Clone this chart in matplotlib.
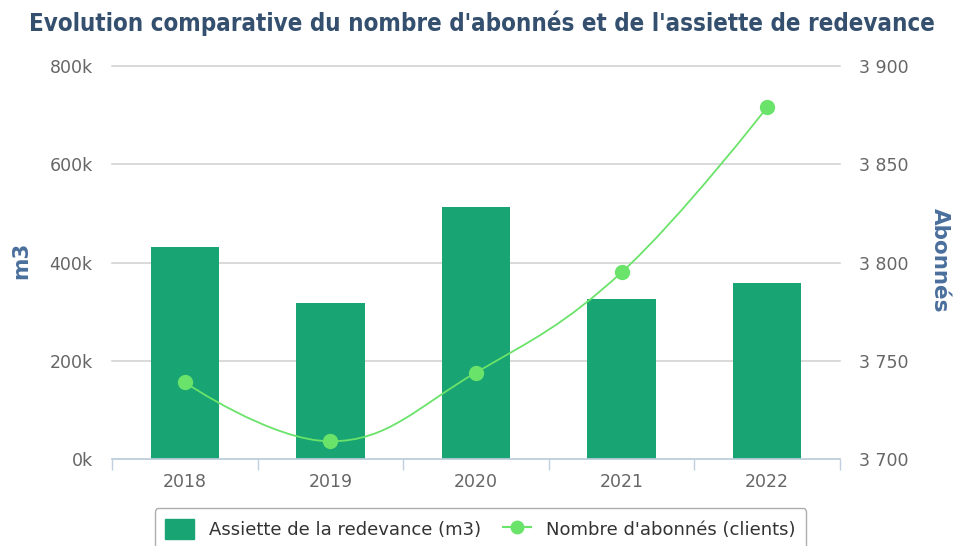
import matplotlib
matplotlib.use("Agg")
import matplotlib.pyplot as plt
from matplotlib.path import Path
from matplotlib.patches import PathPatch, Patch
from matplotlib.lines import Line2D
from matplotlib.ticker import FuncFormatter, FixedLocator

# ---- data ----
years = ["2018", "2019", "2020", "2021", "2022"]
assiette_m3 = [431000, 317000, 513000, 326000, 359000]
abonnes = [3739, 3709, 3744, 3795, 3879]
left_ticks = [0, 200000, 400000, 600000, 800000]
right_ticks = [3700, 3750, 3800, 3850, 3900]

title = "Evolution comparative du nombre d'abonnés et de l'assiette de redevance"
bar_label = "Assiette de la redevance (m3)"
line_label = "Nombre d'abonnés (clients)"

BAR_C = "#19a473"
LINE_C = "#6ae36a"
AXIS_LBL_C = "#4a6f9c"
TICK_C = "#666666"
GRID_C = "#cfcfcf"
XAXIS_C = "#c0d0e0"


def spline_path(xs, ys, smoothing=1.5):
    n = len(xs)
    denom = smoothing + 1
    lc = [None] * n
    rc = [None] * n
    for i in range(1, n - 1):
        px, py = xs[i], ys[i]
        lx, ly = xs[i - 1], ys[i - 1]
        nx, ny = xs[i + 1], ys[i + 1]
        lcx = (smoothing * px + lx) / denom
        lcy = (smoothing * py + ly) / denom
        rcx = (smoothing * px + nx) / denom
        rcy = (smoothing * py + ny) / denom
        corr = ((rcy - lcy) * (rcx - px)) / (rcx - lcx) + py - rcy
        lcy += corr
        rcy += corr
        if lcy > ly and lcy > py:
            lcy = max(ly, py); rcy = 2 * py - lcy
        elif lcy < ly and lcy < py:
            lcy = min(ly, py); rcy = 2 * py - lcy
        if rcy > ny and rcy > py:
            rcy = max(ny, py); lcy = 2 * py - rcy
        elif rcy < ny and rcy < py:
            rcy = min(ny, py); lcy = 2 * py - rcy
        lc[i] = (lcx, lcy)
        rc[i] = (rcx, rcy)
    verts = [(xs[0], ys[0])]
    codes = [Path.MOVETO]
    for i in range(1, n):
        c1 = rc[i - 1] if rc[i - 1] is not None else (xs[i - 1], ys[i - 1])
        c2 = lc[i] if lc[i] is not None else (xs[i], ys[i])
        verts += [c1, c2, (xs[i], ys[i])]
        codes += [Path.CURVE4] * 3
    return Path(verts, codes)


plt.rcParams['font.family'] = ['DejaVu Sans']

fig = plt.figure(figsize=(9.55, 5.46), dpi=100)
ax1 = fig.add_axes([112 / 955, 1 - 459 / 546, (840 - 112) / 955, (459 - 66) / 546])
ax2 = ax1.twinx()

x = list(range(len(years)))
ax1.bar(x, assiette_m3, width=0.47, color=BAR_C, zorder=2)
ax1.set_xlim(-0.5, len(years) - 0.5)
ax1.set_ylim(left_ticks[0], left_ticks[-1])
ax1.yaxis.set_major_locator(FixedLocator(left_ticks))
ax1.yaxis.set_major_formatter(FuncFormatter(lambda v, p: f"{int(v/1000)}k"))
ax1.set_axisbelow(True)
ax1.grid(axis='y', color=GRID_C, lw=1.1)
for gl in ax1.get_ygridlines():
    gl.set_clip_on(False)
ax1.set_xticks(x)
ax1.set_xticklabels(years)
ax1.set_xticks([i - 0.5 for i in range(len(years) + 1)], minor=True)
ax1.tick_params(axis='x', which='major', length=0, pad=10, labelsize=12.5, labelcolor=TICK_C)
ax1.tick_params(axis='x', which='minor', length=8, width=1, color=XAXIS_C)
ax1.tick_params(axis='y', length=0, pad=14, labelsize=12.5, labelcolor=TICK_C)
for s in ['top', 'right', 'left']:
    ax1.spines[s].set_visible(False)
ax1.spines['bottom'].set_color(XAXIS_C)
ax1.spines['bottom'].set_linewidth(1.2)
ax1.set_ylabel("m3", color=AXIS_LBL_C, fontsize=15.5, fontweight='bold', va='center')
ax1.yaxis.set_label_coords(-0.124, 0.505)

ax2.set_ylim(right_ticks[0], right_ticks[-1])
ax2.yaxis.set_major_locator(FixedLocator(right_ticks))
ax2.yaxis.set_major_formatter(FuncFormatter(lambda v, p: f"{int(v):,}".replace(",", " ")))
ax2.tick_params(axis='y', length=0, pad=14, labelsize=12.5, labelcolor=TICK_C)
for s in ax2.spines.values():
    s.set_visible(False)
ax2.set_ylabel("Abonnés", color=AXIS_LBL_C, fontsize=15.5, fontweight='bold',
               rotation=-90, va='center')
ax2.yaxis.set_label_coords(1.1375, 0.505)

ax2.add_patch(PathPatch(spline_path(x, abonnes), fill=False, edgecolor=LINE_C, lw=1.3, zorder=3))
ax2.plot(x, abonnes, linestyle='none', marker='o', markersize=10, color=LINE_C, zorder=4)

fig.text(0.505, 0.958, title, ha='center', va='center', fontsize=17.3,
         fontweight='bold', color="#34506e", fontstretch='condensed')

handles = [Patch(facecolor=BAR_C, edgecolor=BAR_C),
           Line2D([0], [0], color=LINE_C, lw=1.5, marker='o', markersize=9)]
leg = fig.legend(handles, [bar_label, line_label], loc='upper center',
                 bbox_to_anchor=(0.503, 0.0696), ncol=2, frameon=True, fancybox=True,
                 fontsize=13, handlelength=1.6, handleheight=1.3, columnspacing=1.2,
                 borderpad=0.6, borderaxespad=0, edgecolor="#999999")
for t in leg.get_texts():
    t.set_color("#333333")
leg.get_frame().set_linewidth(1.0)

fig.savefig("out.png", dpi=100)
